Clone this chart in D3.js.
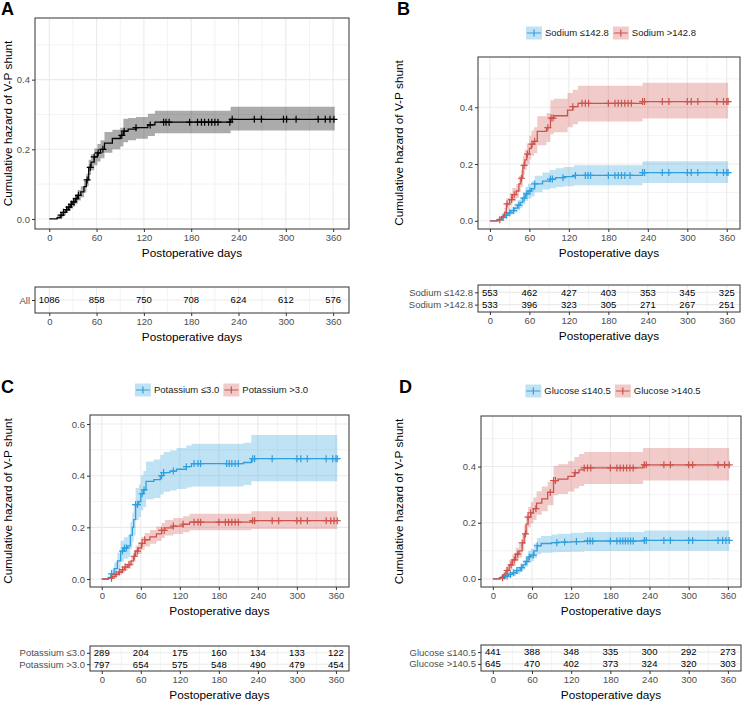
<!DOCTYPE html>
<html>
<head>
<meta charset="utf-8">
<script src="https://cdn.jsdelivr.net/npm/d3@7/dist/d3.min.js"></script>
<style>
	body { margin: 0; background: #fff; }
	svg { display: block; font-family: "Liberation Sans", Arial, sans-serif; }
</style>
</head>
<body>
<div id="chart"></div>
<script>
/* jshint esversion: 6 */

// Data: steps are [day, cumulative hazard, lower CI, upper CI]
const days = [0, 60, 120, 180, 240, 300, 360];
const minorDays = [30, 90, 150, 210, 270, 330];

const allSteps = [[0,0,0,0],[10,0.004,0,0.009],[14,0.011,0.004,0.018],[18,0.019,0.010,0.028],[21,0.027,0.017,0.037],
	[24,0.034,0.023,0.045],[27,0.042,0.030,0.054],[30,0.049,0.036,0.062],[33,0.058,0.044,0.072],[36,0.068,0.053,0.083],
	[40,0.078,0.062,0.094],[44,0.093,0.076,0.110],[47,0.112,0.094,0.130],[50,0.148,0.126,0.170],[53,0.163,0.140,0.186],
	[57,0.178,0.154,0.202],[61,0.190,0.165,0.215],[65,0.200,0.174,0.226],[70,0.218,0.190,0.250],[80,0.231,0.200,0.256],
	[90,0.240,0.208,0.262],[94,0.252,0.220,0.288],[100,0.258,0.226,0.290],[110,0.262,0.230,0.293],[125,0.270,0.238,0.302],
	[134,0.278,0.246,0.311],[230,0.286,0.254,0.322],[362,0.286,0.254,0.322]];
const allCensor = [15,18,22,25,28,31,34,37,48,52,57,62,68,92,95,110,128,145,148,152,178,188,193,197,202,206,210,214,229,232,260,269,297,301,313,341,350,356,361];

const sodLowSteps = [[0,0,0,0],[12,0.004,0,0.009],[18,0.012,0.004,0.020],[22,0.020,0.010,0.030],[27,0.028,0.016,0.040],
	[32,0.036,0.022,0.050],[37,0.045,0.029,0.061],[42,0.055,0.037,0.073],[46,0.065,0.046,0.084],[50,0.080,0.058,0.102],
	[54,0.095,0.071,0.119],[58,0.105,0.079,0.131],[63,0.113,0.086,0.140],[68,0.130,0.101,0.159],[80,0.140,0.110,0.170],
	[91,0.147,0.115,0.179],[100,0.152,0.119,0.185],[112,0.156,0.122,0.190],[128,0.160,0.125,0.196],[232,0.170,0.133,0.210],
	[362,0.170,0.133,0.210]];
const sodHighSteps = [[0,0,0,0],[12,0.004,0,0.010],[18,0.015,0.004,0.026],[22,0.030,0.015,0.045],[25,0.060,0.040,0.080],
	[30,0.075,0.053,0.097],[34,0.092,0.068,0.116],[40,0.105,0.080,0.130],[44,0.130,0.102,0.158],[47,0.150,0.120,0.180],
	[50,0.195,0.162,0.228],[53,0.215,0.180,0.250],[56,0.235,0.198,0.272],[60,0.255,0.216,0.300],[63,0.270,0.229,0.318],
	[67,0.280,0.238,0.330],[72,0.315,0.266,0.368],[86,0.328,0.278,0.380],[92,0.362,0.305,0.425],[97,0.370,0.312,0.430],
	[118,0.390,0.330,0.450],[126,0.402,0.340,0.462],[134,0.414,0.350,0.476],[232,0.420,0.360,0.486],[362,0.420,0.360,0.486]];
const sodLowCensor = [20,25,30,36,44,52,56,61,68,92,95,111,130,145,149,153,180,190,195,200,205,213,232,235,262,272,300,306,316,345,355,360,362];
const sodHighCensor = [15,26,33,37,48,52,57,64,68,88,93,96,126,140,145,150,180,190,195,200,205,210,215,232,235,262,272,300,306,316,345,355,360,362];

const potLowSteps = [[0,0,0,0],[10,0.005,0,0.012],[14,0.020,0.003,0.037],[19,0.040,0.015,0.065],[24,0.070,0.038,0.102],
	[29,0.108,0.068,0.148],[34,0.120,0.078,0.162],[40,0.128,0.084,0.172],[44,0.170,0.118,0.222],[47,0.200,0.143,0.257],
	[49,0.230,0.168,0.292],[52,0.288,0.228,0.352],[57,0.300,0.240,0.366],[60,0.330,0.266,0.402],[64,0.345,0.279,0.418],
	[68,0.378,0.308,0.455],[80,0.385,0.314,0.463],[90,0.400,0.327,0.480],[95,0.412,0.338,0.492],[105,0.418,0.343,0.498],
	[115,0.425,0.348,0.507],[130,0.435,0.354,0.517],[138,0.447,0.358,0.524],[218,0.451,0.364,0.528],[230,0.466,0.378,0.558],
	[362,0.466,0.378,0.558]];
const potHighSteps = [[0,0,0,0],[10,0.003,0,0.007],[16,0.010,0.004,0.016],[21,0.018,0.009,0.027],[26,0.027,0.016,0.038],
	[31,0.036,0.023,0.049],[35,0.046,0.032,0.060],[40,0.056,0.040,0.072],[45,0.070,0.052,0.088],[49,0.088,0.068,0.108],
	[52,0.108,0.086,0.130],[56,0.120,0.097,0.143],[61,0.138,0.113,0.163],[66,0.152,0.126,0.178],[74,0.163,0.136,0.190],
	[84,0.175,0.147,0.203],[92,0.188,0.159,0.217],[97,0.198,0.168,0.228],[110,0.205,0.174,0.236],[125,0.212,0.181,0.243],
	[135,0.220,0.189,0.253],[230,0.226,0.194,0.262],[362,0.226,0.194,0.262]];
const potLowCensor = [15,32,35,38,52,55,62,65,92,95,110,130,142,148,152,192,196,200,205,210,232,235,262,300,306,316,345,355,360,362];
const potHighCensor = [15,22,27,32,36,42,50,55,62,66,92,96,110,125,142,148,152,180,190,195,200,205,210,232,235,262,272,300,306,316,345,352,357,362];

const gluLowSteps = [[0,0,0,0],[12,0.004,0,0.009],[18,0.010,0.003,0.017],[24,0.016,0.007,0.025],[30,0.022,0.011,0.033],
	[36,0.030,0.017,0.043],[42,0.040,0.025,0.055],[46,0.050,0.033,0.067],[50,0.062,0.043,0.081],[54,0.078,0.057,0.099],
	[58,0.085,0.063,0.107],[63,0.100,0.074,0.126],[68,0.118,0.088,0.146],[74,0.126,0.093,0.153],[90,0.129,0.095,0.158],
	[100,0.131,0.096,0.161],[120,0.133,0.097,0.164],[140,0.135,0.099,0.167],[232,0.137,0.100,0.172],[362,0.137,0.100,0.172]];
const gluHighSteps = [[0,0,0,0],[10,0.004,0,0.010],[16,0.015,0.005,0.025],[20,0.030,0.016,0.044],[25,0.050,0.032,0.068],
	[30,0.068,0.048,0.088],[35,0.088,0.065,0.111],[40,0.100,0.075,0.125],[45,0.128,0.100,0.156],[48,0.160,0.129,0.191],
	[51,0.195,0.161,0.229],[54,0.220,0.184,0.256],[58,0.235,0.197,0.273],[62,0.250,0.210,0.290],[67,0.270,0.228,0.312],
	[75,0.285,0.241,0.329],[84,0.308,0.262,0.345],[93,0.350,0.298,0.402],[100,0.355,0.302,0.408],[115,0.365,0.311,0.419],
	[125,0.378,0.322,0.434],[132,0.388,0.331,0.445],[140,0.395,0.338,0.452],[230,0.406,0.350,0.466],[362,0.406,0.350,0.466]];
const gluLowCensor = [18,22,27,32,37,44,52,56,62,68,98,110,128,145,149,153,180,190,195,199,203,207,211,215,232,235,262,272,300,306,345,352,357,362];
const gluHighCensor = [15,22,28,33,38,45,50,54,58,66,88,93,96,126,140,145,150,180,190,195,200,205,210,215,232,235,262,272,300,306,345,355,362];

// Numbers at risk
const riskAll = [[1086, 858, 750, 708, 624, 612, 576]];
const riskSod = [[553, 462, 427, 403, 353, 345, 325], [533, 396, 323, 305, 271, 267, 251]];
const riskPot = [[289, 204, 175, 160, 134, 133, 122], [797, 654, 575, 548, 490, 479, 454]];
const riskGlu = [[441, 388, 348, 335, 300, 292, 273], [645, 470, 402, 373, 324, 320, 303]];

const blue = "#2E9FDF",
			red = "#CD534C";

/////////////////////////////////////////////////////////////////////////////
//// Panels /////////////////////////////////////////////////////////////////
/////////////////////////////////////////////////////////////////////////////

const panels = [
	{ letter: "A", lx: 1, ly: 15, titleX: 8,
		plot: {x0: 35, x1: 349, y0: 18, y1: 229}, table: {y0: 287, y1: 313},
		yDomain: [-0.0288, 0.577], yTicks: [0, 0.2, 0.4], yMinor: [0.1, 0.3, 0.5],
		groups: [{name: "All", steps: allSteps, censor: allCensor, color: "#000", band: "#000", bandOp: 0.33}],
		risk: riskAll, legend: false },
	{ letter: "B", lx: 397, ly: 15, titleX: 399,
		plot: {x0: 478, x1: 740, y0: 57, y1: 229}, table: {y0: 285, y1: 312},
		yDomain: [-0.0288, 0.577], yTicks: [0, 0.2, 0.4], yMinor: [0.1, 0.3, 0.5],
		groups: [{name: "Sodium ≤142.8", steps: sodLowSteps, censor: sodLowCensor, color: blue, band: blue, bandOp: 0.3},
						 {name: "Sodium >142.8", steps: sodHighSteps, censor: sodHighCensor, color: red, band: red, bandOp: 0.3}],
		risk: riskSod, legend: true, legendY: 33 },
	{ letter: "C", lx: 1, ly: 393, titleX: 8,
		plot: {x0: 90, x1: 349, y0: 415, y1: 587}, table: {y0: 646, y1: 671},
		yDomain: [-0.031, 0.635], yTicks: [0, 0.2, 0.4, 0.6], yMinor: [0.1, 0.3, 0.5],
		groups: [{name: "Potassium ≤3.0", steps: potLowSteps, censor: potLowCensor, color: blue, band: blue, bandOp: 0.3},
						 {name: "Potassium >3.0", steps: potHighSteps, censor: potHighCensor, color: red, band: red, bandOp: 0.3}],
		risk: riskPot, legend: true, legendY: 390 },
	{ letter: "D", lx: 399, ly: 393, titleX: 399,
		plot: {x0: 481, x1: 741, y0: 416, y1: 587}, table: {y0: 645, y1: 671},
		yDomain: [-0.0288, 0.58], yTicks: [0, 0.2, 0.4], yMinor: [0.1, 0.3, 0.5],
		groups: [{name: "Glucose ≤140.5", steps: gluLowSteps, censor: gluLowCensor, color: blue, band: blue, bandOp: 0.3},
						 {name: "Glucose >140.5", steps: gluHighSteps, censor: gluHighCensor, color: red, band: red, bandOp: 0.3}],
		risk: riskGlu, legend: true, legendY: 391 }
];

const svg = d3.select("#chart")
	.append("svg")
		.attr("width", 742)
		.attr("height", 702);

const gridColor = "#EBEBEB",
			frameColor = "#333333",
			tickText = "#4D4D4D";

// step value at a given day (for censor marks)
function hazardAt(steps, t) {
	let v = 0;
	steps.forEach(s => { if (s[0] <= t) v = s[1]; });
	return v;
}

function styleAxis(sel) {
	sel.select(".domain").remove();
	sel.selectAll(".tick line").attr("stroke", frameColor);
	sel.selectAll(".tick text")
		.attr("fill", tickText)
		.style("font-size", "9.5px");
}

function drawPanel(p) {
	const g = svg.append("g");
	const pl = p.plot;

	const x = d3.scaleLinear().domain([-18.1, 380.1]).range([pl.x0, pl.x1]);
	const y = d3.scaleLinear().domain(p.yDomain).range([pl.y1, pl.y0]);

	// Letter
	g.append("text")
		.attr("x", p.lx)
		.attr("y", p.ly)
		.style("font-size", "18px")
		.style("font-weight", "bold")
		.text(p.letter);

	// Grid
	const grid = g.append("g");
	grid.selectAll(".vminor").data(minorDays).enter().append("line")
		.attr("x1", d => x(d)).attr("x2", d => x(d))
		.attr("y1", pl.y0).attr("y2", pl.y1)
		.attr("stroke", gridColor).attr("stroke-width", 0.6);
	grid.selectAll(".hminor").data(p.yMinor).enter().append("line")
		.attr("x1", pl.x0).attr("x2", pl.x1)
		.attr("y1", d => y(d)).attr("y2", d => y(d))
		.attr("stroke", gridColor).attr("stroke-width", 0.6);
	grid.selectAll(".vmajor").data(days).enter().append("line")
		.attr("x1", d => x(d)).attr("x2", d => x(d))
		.attr("y1", pl.y0).attr("y2", pl.y1)
		.attr("stroke", gridColor).attr("stroke-width", 1.1);
	grid.selectAll(".hmajor").data(p.yTicks).enter().append("line")
		.attr("x1", pl.x0).attr("x2", pl.x1)
		.attr("y1", d => y(d)).attr("y2", d => y(d))
		.attr("stroke", gridColor).attr("stroke-width", 1.1);

	// Bands, lines, censor marks
	const area = d3.area()
		.curve(d3.curveStepAfter)
		.x(d => x(d[0]))
		.y0(d => y(d[2]))
		.y1(d => y(d[3]));
	const line = d3.line()
		.curve(d3.curveStepAfter)
		.x(d => x(d[0]))
		.y(d => y(d[1]));

	p.groups.forEach(gr => {
		g.append("path")
			.attr("d", area(gr.steps))
			.attr("fill", gr.band)
			.attr("fill-opacity", gr.bandOp);
	});
	p.groups.forEach(gr => {
		g.append("path")
			.attr("d", line(gr.steps))
			.attr("fill", "none")
			.attr("stroke", gr.color)
			.attr("stroke-width", 1.3);
		g.append("g")
			.selectAll("path")
			.data(gr.censor)
			.enter()
			.append("path")
				.attr("transform", d => `translate(${x(d)},${y(hazardAt(gr.steps, d))})`)
				.attr("d", "M-3.5,0H3.5M0,-3.5V3.5")
				.attr("stroke", gr.color)
				.attr("stroke-width", 1.2);
	});

	// Frame
	g.append("rect")
		.attr("x", pl.x0).attr("y", pl.y0)
		.attr("width", pl.x1 - pl.x0).attr("height", pl.y1 - pl.y0)
		.attr("fill", "none")
		.attr("stroke", frameColor);

	// Axes
	g.append("g")
		.attr("transform", `translate(0,${pl.y1})`)
		.call(d3.axisBottom(x).tickValues(days).tickSize(3).tickPadding(2))
		.call(styleAxis);
	g.append("g")
		.attr("transform", `translate(${pl.x0},0)`)
		.call(d3.axisLeft(y).tickValues(p.yTicks).tickFormat(d3.format(".1f")).tickSize(3).tickPadding(2))
		.call(styleAxis);

	g.append("text")
		.attr("x", (pl.x0 + pl.x1) / 2)
		.attr("y", pl.y1 + 28)
		.attr("text-anchor", "middle")
		.style("font-size", "11.8px")
		.text("Postoperative days");

	g.append("text")
		.attr("transform", `translate(${p.titleX},${(pl.y0 + pl.y1) / 2}) rotate(-90)`)
		.attr("text-anchor", "middle")
		.attr("dy", "0.35em")
		.style("font-size", "11.8px")
		.text("Cumulative hazard of V-P shunt");

	// Legend
	if (p.legend) {
		const lg = g.append("g");
		let cx = 0;
		p.groups.forEach(gr => {
			const item = lg.append("g").attr("transform", `translate(${cx},0)`);
			item.append("rect")
				.attr("x", 0).attr("y", -6.5)
				.attr("width", 16).attr("height", 13)
				.attr("fill", gr.band).attr("fill-opacity", gr.bandOp);
			item.append("path")
				.attr("d", "M1,0H15M8,-3.5V3.5")
				.attr("stroke", gr.color)
				.attr("stroke-width", 1.2);
			const t = item.append("text")
				.attr("x", 19)
				.attr("dy", "0.35em")
				.style("font-size", "9.5px")
				.attr("fill", "#1a1a1a")
				.text(gr.name);
			cx += 19 + t.node().getComputedTextLength() + 4;
		});
		const lw = cx - 4;
		lg.attr("transform", `translate(${(pl.x0 + pl.x1) / 2 - lw / 2 + 2},${p.legendY})`);
	}

	// Risk table
	const tb = p.table;
	const rows = p.groups.map(gr => gr.name);
	const ry = d3.scalePoint().domain(rows).range([tb.y0, tb.y1]).padding(0.6);

	const tg = g.append("g");
	tg.selectAll(".tv").data(minorDays).enter().append("line")
		.attr("x1", d => x(d)).attr("x2", d => x(d))
		.attr("y1", tb.y0).attr("y2", tb.y1)
		.attr("stroke", gridColor).attr("stroke-width", 0.6);
	tg.selectAll(".tvm").data(days).enter().append("line")
		.attr("x1", d => x(d)).attr("x2", d => x(d))
		.attr("y1", tb.y0).attr("y2", tb.y1)
		.attr("stroke", gridColor).attr("stroke-width", 1.1);
	tg.selectAll(".th").data(rows).enter().append("line")
		.attr("x1", pl.x0).attr("x2", pl.x1)
		.attr("y1", d => ry(d)).attr("y2", d => ry(d))
		.attr("stroke", gridColor).attr("stroke-width", 1.1);

	p.risk.forEach((vals, i) => {
		tg.append("g")
			.selectAll("text")
			.data(vals)
			.enter()
			.append("text")
				.attr("x", (d, j) => x(days[j]))
				.attr("y", ry(rows[i]))
				.attr("dy", "0.35em")
				.attr("text-anchor", "middle")
				.style("font-size", "9.5px")
				.attr("fill", "#000")
				.text(d => d);
	});

	tg.append("rect")
		.attr("x", pl.x0).attr("y", tb.y0)
		.attr("width", pl.x1 - pl.x0).attr("height", tb.y1 - tb.y0)
		.attr("fill", "none")
		.attr("stroke", frameColor);

	tg.append("g")
		.attr("transform", `translate(0,${tb.y1})`)
		.call(d3.axisBottom(x).tickValues(days).tickSize(3).tickPadding(2))
		.call(styleAxis);
	tg.append("g")
		.attr("transform", `translate(${pl.x0},0)`)
		.call(d3.axisLeft(ry).tickSize(3).tickPadding(2))
		.call(styleAxis);

	tg.append("text")
		.attr("x", (pl.x0 + pl.x1) / 2)
		.attr("y", tb.y1 + 28)
		.attr("text-anchor", "middle")
		.style("font-size", "11.8px")
		.text("Postoperative days");
}

panels.forEach(drawPanel);
</script>
</body>
</html>
